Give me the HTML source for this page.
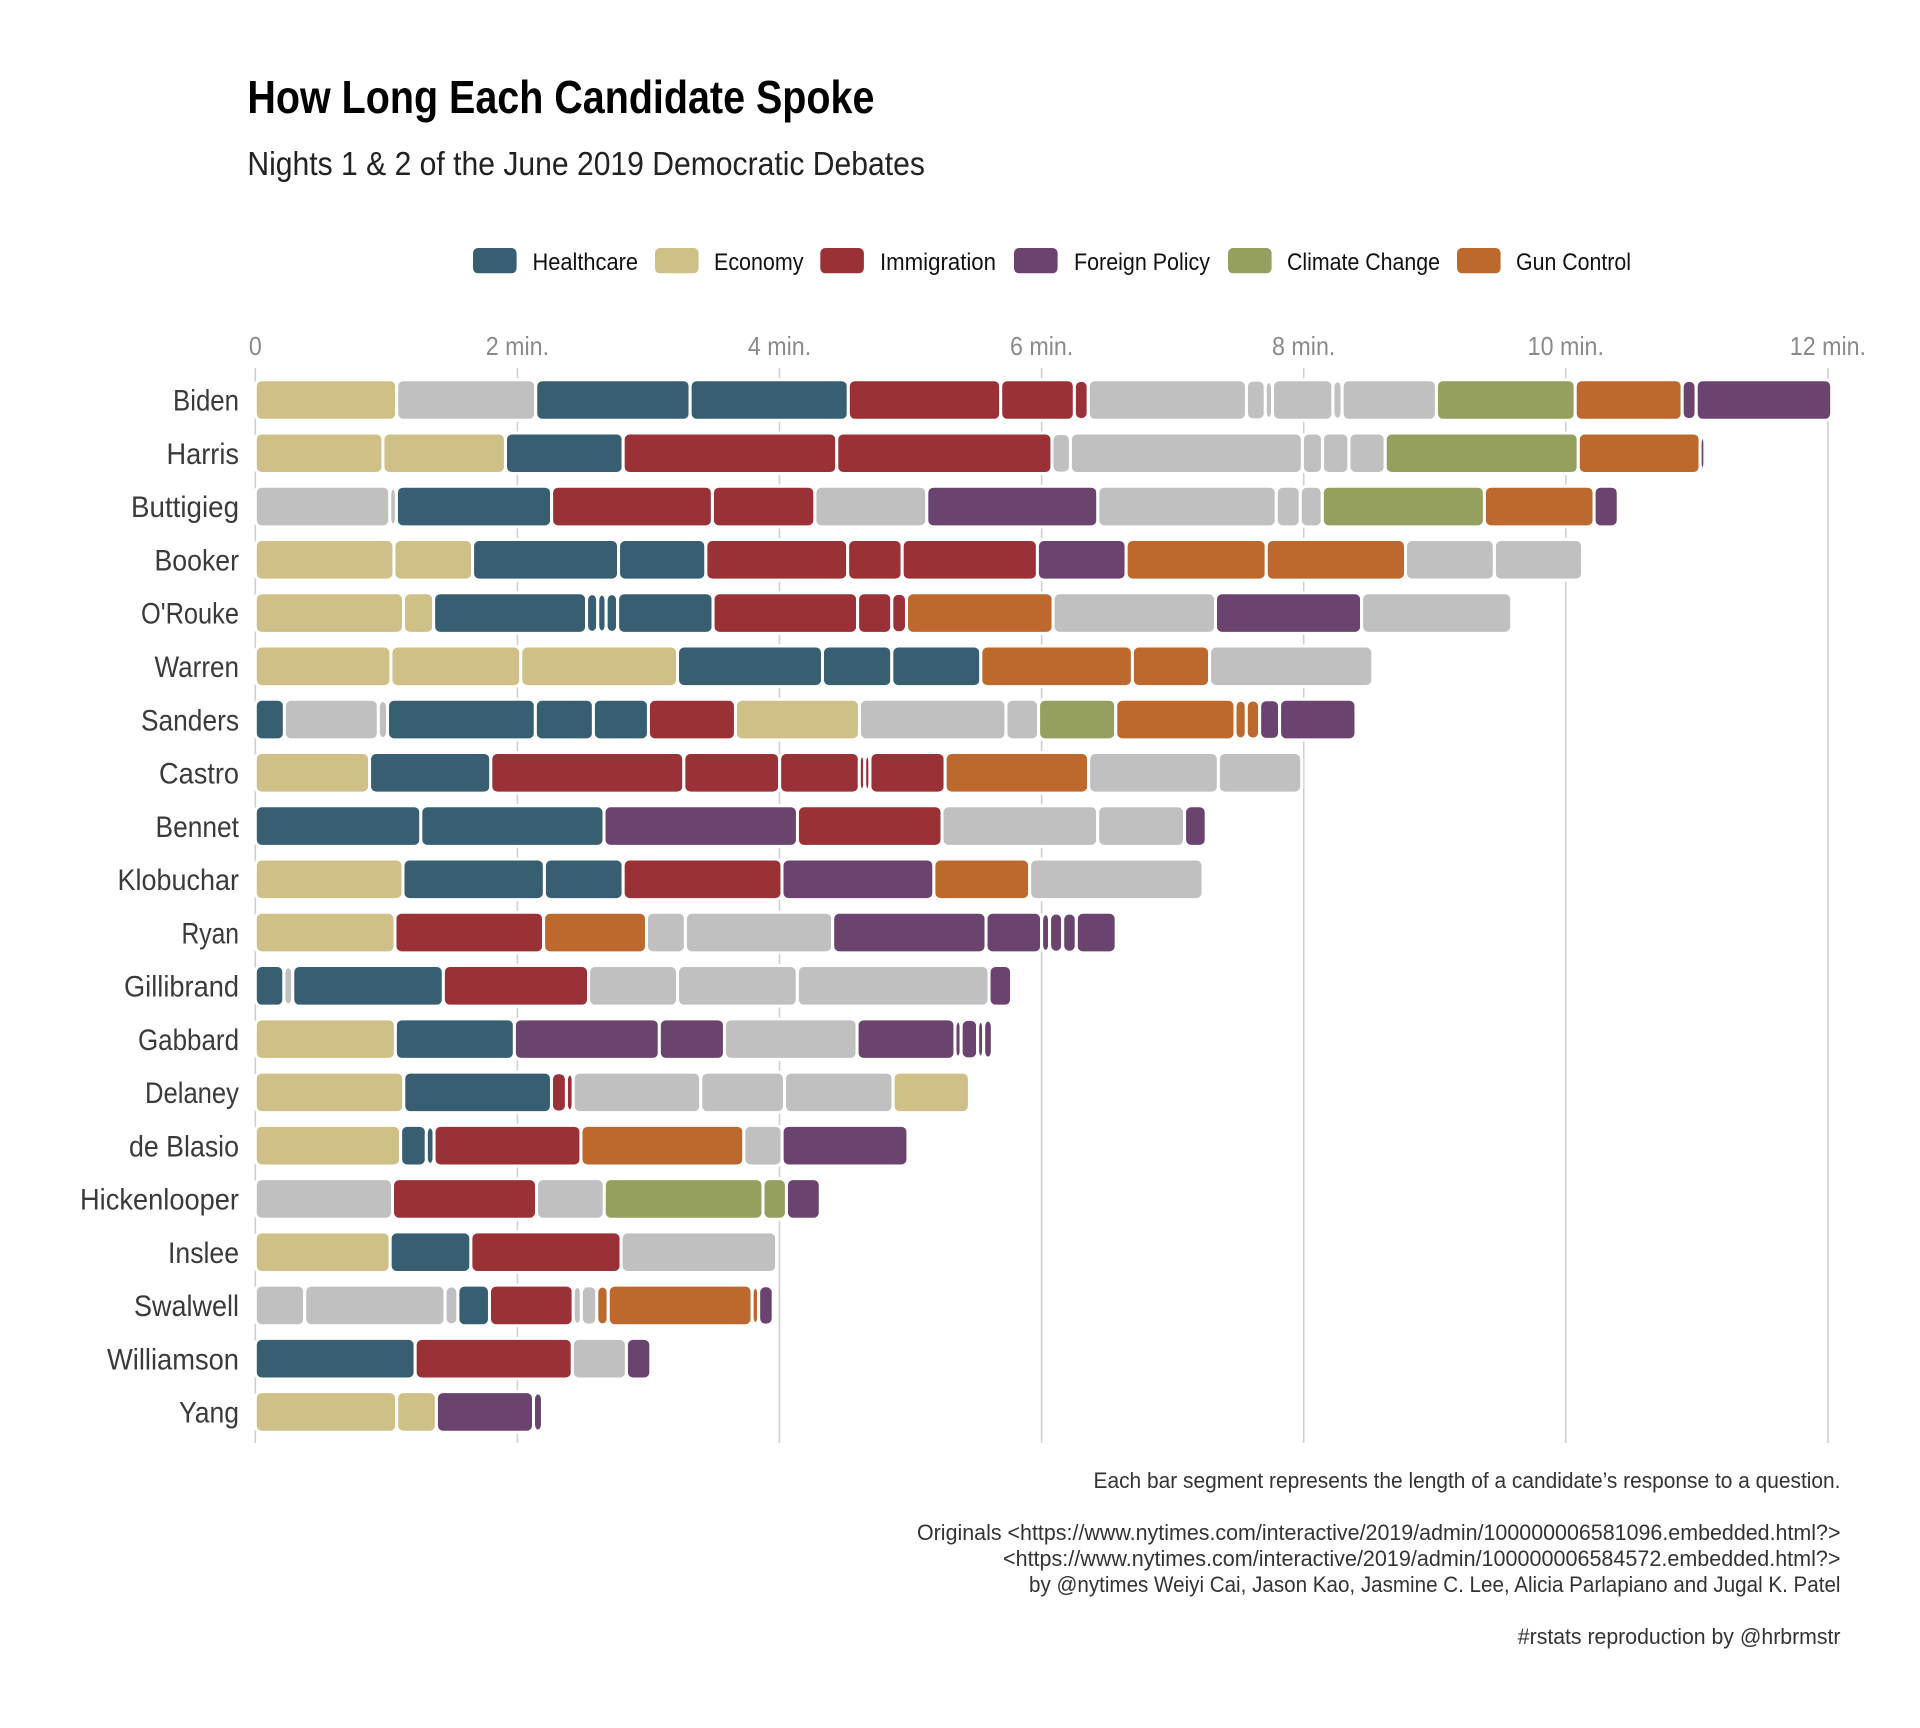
<!DOCTYPE html>
<html lang="en">
<head>
<meta charset="utf-8">
<title>How Long Each Candidate Spoke</title>
<style>
html,body{margin:0;padding:0;background:#fff;}
svg{display:block;}
text{font-family:"Liberation Sans",sans-serif;}
</style>
</head>
<body>
<svg id="chart" xmlns="http://www.w3.org/2000/svg" width="1920" height="1728" viewBox="0 0 1920 1728">
  <rect x="0" y="0" width="1920" height="1728" fill="#ffffff"/>
  <text x="247.4" y="113" font-size="46" font-weight="700" fill="#000" textLength="627" lengthAdjust="spacingAndGlyphs">How Long Each Candidate Spoke</text>
  <text x="247.4" y="175" font-size="33" fill="#222" textLength="677.5" lengthAdjust="spacingAndGlyphs">Nights 1 &amp; 2 of the June 2019 Democratic Debates</text>

  <g id="legend"></g>
  <g id="grid"></g>
  <g id="ticks"></g>
  <g id="rows"></g>

  <g font-size="22" fill="#333" text-anchor="end">
    <text x="1840.5" y="1488" textLength="747" lengthAdjust="spacingAndGlyphs">Each bar segment represents the length of a candidate’s response to a question.</text>
    <text x="1840.5" y="1540" textLength="923.5" lengthAdjust="spacingAndGlyphs">Originals &lt;https://www.nytimes.com/interactive/2019/admin/100000006581096.embedded.html?&gt;</text>
    <text x="1840.5" y="1566" textLength="837.5" lengthAdjust="spacingAndGlyphs">&lt;https://www.nytimes.com/interactive/2019/admin/100000006584572.embedded.html?&gt;</text>
    <text x="1840.5" y="1592" textLength="811.5" lengthAdjust="spacingAndGlyphs">by @nytimes Weiyi Cai, Jason Kao, Jasmine C. Lee, Alicia Parlapiano and Jugal K. Patel</text>
    <text x="1840.5" y="1644" textLength="322.7" lengthAdjust="spacingAndGlyphs">#rstats reproduction by @hrbrmstr</text>
  </g>
</svg>
<script>
const candidates = ["Biden","Harris","Buttigieg","Booker","O'Rouke","Warren","Sanders","Castro","Bennet","Klobuchar","Ryan","Gillibrand","Gabbard","Delaney","de Blasio","Hickenlooper","Inslee","Swalwell","Williamson","Yang"];

const tickMinutes = [0,2,4,6,8,10,12];
const tickLabels = ["0","2 min.","4 min.","6 min.","8 min.","10 min.","12 min."];

const topicKeys = ["H","E","I","F","C","G"];
const topicNames = ["Healthcare","Economy","Immigration","Foreign Policy","Climate Change","Gun Control"];

// Topic of each response, per candidate (O = other / no topic highlighted)
const segmentTopics = [
  "E O H H I I I O O O O O O C G F F",
  "E E H I I O O O O O C G F",
  "O O H I I O F O O O C G F",
  "E E H H I I I F G G O O",
  "E E H H H H H I I I G O F O",
  "E E E H H H G G O",
  "H O O H H H I E O O C G G G F F",
  "E H I I I I I I G O O",
  "H H F I O O F",
  "E H H I F G O",
  "E I G O O F F F F F F",
  "H O H I O O O F",
  "E H F F O F F F F F",
  "E H I I O O O E",
  "E H H I G O F",
  "O I O C C F",
  "E H I O",
  "O O O H I O O G G G F",
  "H I O F",
  "E E F F"
];

// Length of each response in minutes, per candidate
const segmentMinutes = [
  [1.079,1.061,1.178,1.207,1.163,0.562,0.106,1.207,0.144,0.055,0.461,0.070,0.720,1.059,0.816,0.107,1.034],
  [0.974,0.935,0.898,1.630,1.642,0.141,1.770,0.153,0.202,0.277,1.473,0.930,0.036],
  [1.026,0.051,1.184,1.227,0.782,0.854,1.305,1.362,0.183,0.168,1.237,0.837,0.184],
  [1.058,0.600,1.114,0.666,1.082,0.416,1.032,0.677,1.069,1.063,0.678,0.673],
  [1.131,0.230,1.167,0.085,0.064,0.088,0.728,1.103,0.261,0.112,1.119,1.239,1.115,1.145],
  [1.035,0.991,1.196,1.106,0.529,0.679,1.157,0.589,1.245],
  [0.222,0.717,0.070,1.128,0.443,0.420,0.664,0.946,1.118,0.249,0.589,0.910,0.086,0.102,0.152,0.583],
  [0.872,0.925,1.473,0.731,0.608,0.041,0.040,0.574,1.095,0.990,0.636],
  [1.263,1.398,1.476,1.103,1.188,0.663,0.165],
  [1.127,1.079,0.601,1.212,1.159,0.731,1.323],
  [1.066,1.134,0.785,0.297,1.124,1.170,0.424,0.061,0.100,0.104,0.304],
  [0.218,0.068,1.149,1.108,0.679,0.914,1.463,0.172],
  [1.069,0.908,1.106,0.497,1.012,0.747,0.047,0.126,0.046,0.066],
  [1.133,1.127,0.114,0.052,0.973,0.639,0.829,0.582],
  [1.109,0.196,0.059,1.121,1.243,0.292,0.960],
  [1.047,1.099,0.517,1.211,0.179,0.258],
  [1.029,0.616,1.146,1.187],
  [0.377,1.071,0.098,0.241,0.639,0.062,0.118,0.087,1.098,0.050,0.111],
  [1.220,1.199,0.413,0.186],
  [1.079,0.303,0.741,0.068]
];

const NS = "http://www.w3.org/2000/svg";
const topicColor = {H:"#375e71",E:"#cfc087",I:"#9a3137",F:"#6a446e",C:"#959f5e",G:"#bd692e",O:"#c0c0c0"};
const topicLabel = {H:"healthcare",E:"economy",I:"immigration",F:"foreign-policy",C:"climate-change",G:"gun-control",O:"other"};
const labelWidths = {"Biden":66,"Harris":72.5,"Buttigieg":108,"Booker":84.5,"O'Rouke":98,"Warren":84.5,"Sanders":98,"Castro":80,"Bennet":83.5,"Klobuchar":121.5,"Ryan":57.5,"Gillibrand":115,"Gabbard":101,"Delaney":94,"de Blasio":110,"Hickenlooper":159,"Inslee":71,"Swalwell":105,"Williamson":132,"Yang":60};

function xScale(m){ return 255.3 + 131.05 * m; }
function yScale(i){ return 400 + 53.26 * i; }

const gridG = document.getElementById("grid");
const ticksG = document.getElementById("ticks");
const rowsG = document.getElementById("rows");
const legendG = document.getElementById("legend");

tickMinutes.forEach(function(m, i){
  const line = document.createElementNS(NS, "line");
  
  
  line.setAttribute("x1", xScale(m));
  line.setAttribute("x2", xScale(m));
  line.setAttribute("y1", 368);
  line.setAttribute("y2", 1443);
  line.setAttribute("stroke", "#cfcfcf");
  line.setAttribute("stroke-width", 1.6);
  gridG.appendChild(line);

  const t = document.createElementNS(NS, "text");
  
  
  t.setAttribute("transform", "translate(" + xScale(m) + ",355) scale(0.905,1)");
  t.setAttribute("text-anchor", "middle");
  t.setAttribute("font-size", 25.7);
  t.setAttribute("fill", "#8a8a8a");
  t.textContent = tickLabels[i];
  ticksG.appendChild(t);
});

candidates.forEach(function(name, i){
  const yc = yScale(i);
  const row = document.createElementNS(NS, "g");
  
  

  const label = document.createElementNS(NS, "text");
  
  
  label.setAttribute("x", 239);
  label.setAttribute("y", yc + 10.7);
  label.setAttribute("text-anchor", "end");
  label.setAttribute("font-size", 30);
  label.setAttribute("fill", "#3a3a3a");
  label.setAttribute("textLength", labelWidths[name]);
  label.setAttribute("lengthAdjust", "spacingAndGlyphs");
  label.textContent = name;
  row.appendChild(label);

  const topics = segmentTopics[i].split(" ");
  let start = 0;
  segmentMinutes[i].forEach(function(d, j){
    const end = start + d;
    const w = xScale(end) - xScale(start);
    // slivers narrower than the corner radius taper and end short of the full bar height
    const visible = Math.max(w - 3, 0.1);
    const inset = w < 20 ? 7.5 / (visible + 0.1) : 0;
    const r = document.createElementNS(NS, "rect");
    
    
    r.setAttribute("x", xScale(start));
    r.setAttribute("y", yc - 20.3 + inset);
    r.setAttribute("width", w);
    r.setAttribute("height", 40.6 - 2 * inset);
    r.setAttribute("rx", 6.5);
    r.setAttribute("ry", 6.5);
    r.setAttribute("fill", topicColor[topics[j]]);
    r.setAttribute("stroke", "#ffffff");
    r.setAttribute("stroke-width", 3);
    row.appendChild(r);
    start = end;
  });
  rowsG.appendChild(row);
});

const legendKeyX = [473, 655, 820.3, 1014, 1228, 1457];
const legendTextX = [532.5, 714, 880, 1074, 1287, 1516];
const legendTextW = [105.5, 89.5, 116, 136, 153, 115];
topicNames.forEach(function(name, i){
  const g = document.createElementNS(NS, "g");
  
  

  const k = document.createElementNS(NS, "rect");
  
  
  k.setAttribute("x", legendKeyX[i]);
  k.setAttribute("y", 248);
  k.setAttribute("width", 43.6);
  k.setAttribute("height", 25.3);
  k.setAttribute("rx", 5);
  k.setAttribute("fill", topicColor[topicKeys[i]]);
  g.appendChild(k);

  const t = document.createElementNS(NS, "text");
  
  
  t.setAttribute("x", legendTextX[i]);
  t.setAttribute("y", 270);
  t.setAttribute("font-size", 24);
  t.setAttribute("fill", "#111");
  t.setAttribute("textLength", legendTextW[i]);
  t.setAttribute("lengthAdjust", "spacingAndGlyphs");
  t.textContent = name;
  g.appendChild(t);

  legendG.appendChild(g);
});
</script>
</body>
</html>
